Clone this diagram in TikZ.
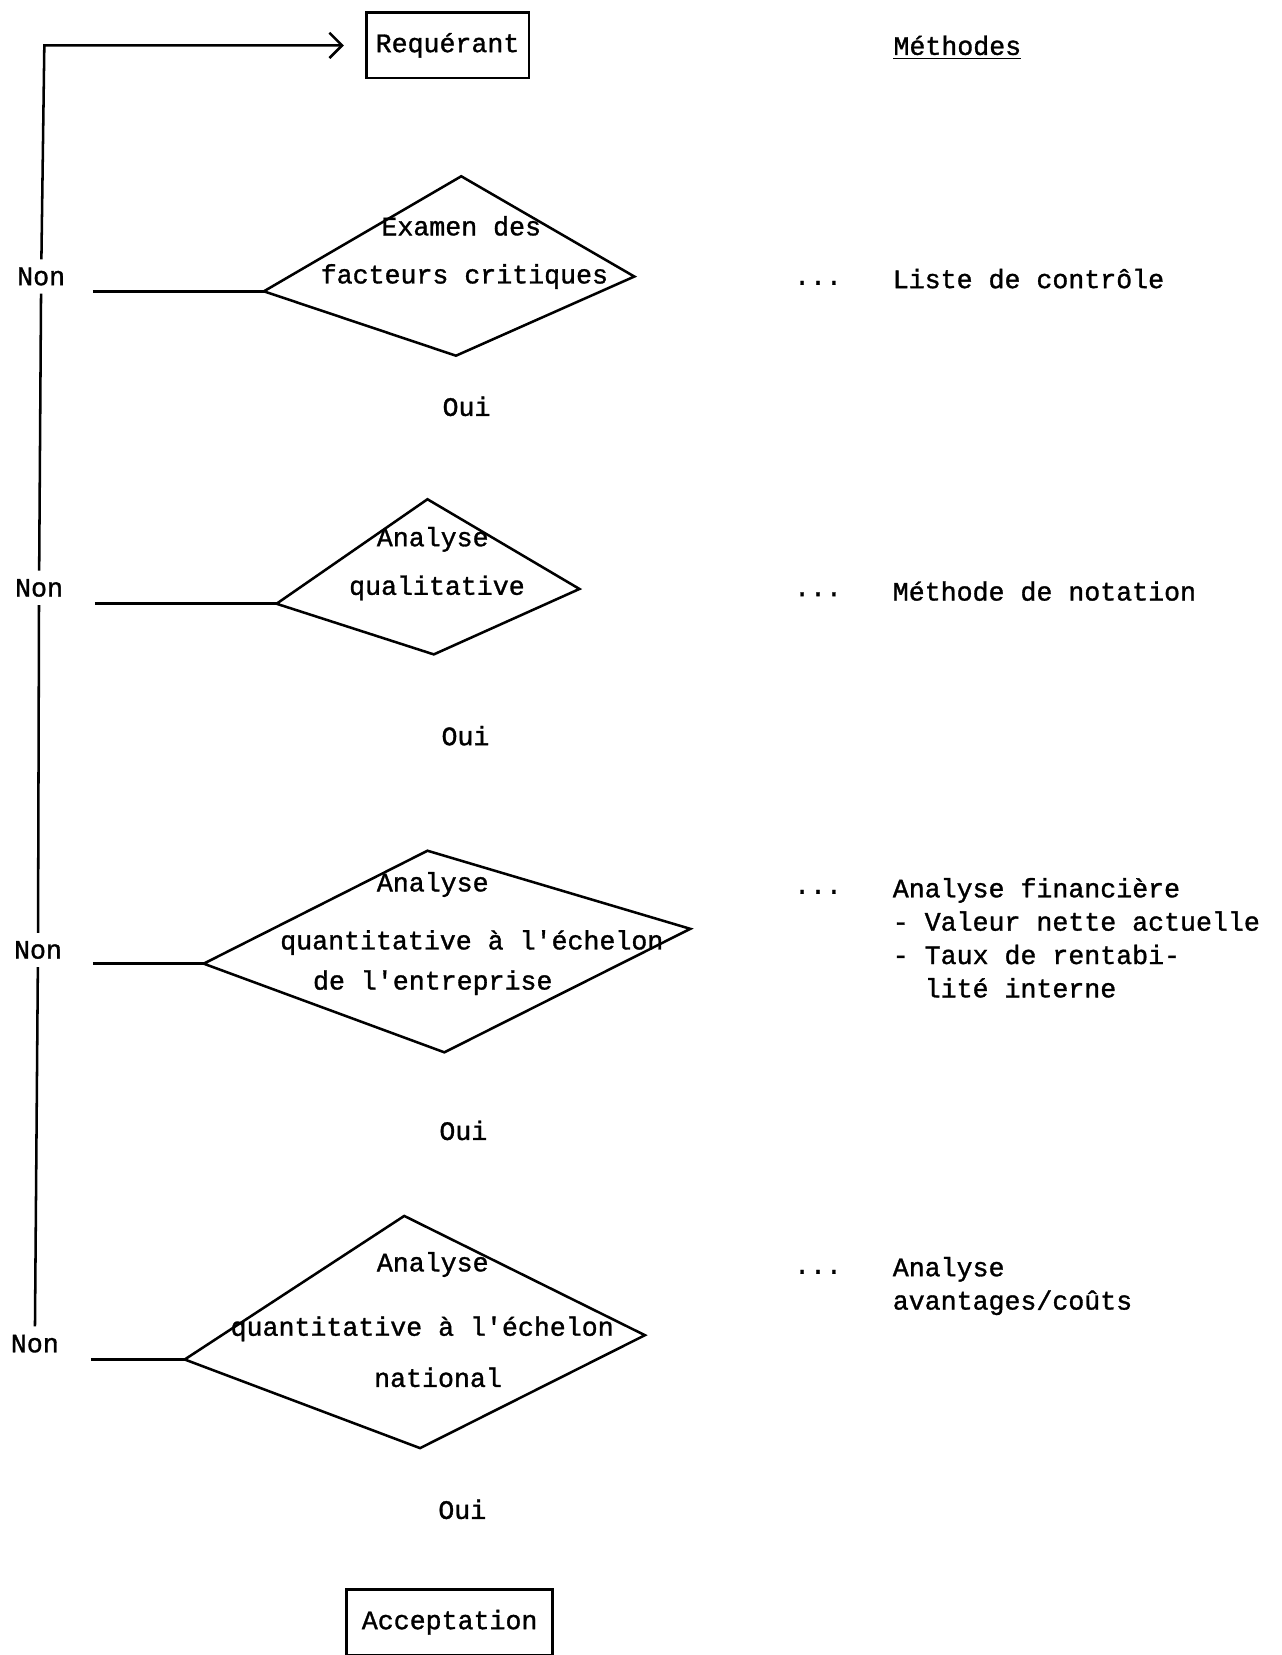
\documentclass[tikz,border=0pt]{standalone}
\usepackage{fontspec}
\setmainfont{Liberation Mono}[Ligatures=TeXOff]
\newfontfamily\typewriter{Liberation Mono}[Ligatures=TeXOff, FakeBold=1.2]
\usepackage{tikz}
\usetikzlibrary{arrows.meta}

\begin{document}
\begin{tikzpicture}[x=0.5pt, y=-0.5pt, line width=1.2pt,
    every node/.style={font=\typewriter\fontsize{12.6}{15.8}\selectfont},
    box/.style={draw, minimum height=31pt, inner sep=0pt},
    method/.style={anchor=west, align=left}]
    \useasboundingbox (0,0) rectangle (1214,1568);

    \node[box, minimum width=77pt] at (424,43) (req) {Requérant};
    \node[box, minimum width=97.5pt] at (426,1537) (acc) {Acceptation};
    \node at (907,45) (meth) {\underline{Méthodes}};

    \node at (39,262) (non1) {Non};
    \node at (37,557) (non2) {Non};
    \node at (36,900) (non3) {Non};
    \node at (33,1273) (non4) {Non};
    \coordinate (corner) at (42,43);

    \coordinate (d1l) at (250,276);
    \coordinate (d1t) at (437,167);
    \coordinate (d1r) at (601,262);
    \coordinate (d1b) at (432,337);
    \coordinate (d2l) at (262,572);
    \coordinate (d2t) at (405,473);
    \coordinate (d2r) at (549,558);
    \coordinate (d2b) at (411,620);
    \coordinate (d3l) at (193,913);
    \coordinate (d3t) at (405,806);
    \coordinate (d3r) at (654,880);
    \coordinate (d3b) at (421,997);
    \coordinate (d4l) at (175,1288);
    \coordinate (d4t) at (383,1152);
    \coordinate (d4r) at (611,1265);
    \coordinate (d4b) at (398,1372);

    \coordinate (s1) at (88,276);
    \coordinate (s2) at (90,572);
    \coordinate (s3) at (88,913);
    \coordinate (s4) at (86,1288);

    \node at (437,214) (d1a) {Examen des};
    \node at (440,262) (d1c) {facteurs critiques};
    \node at (410,511) (d2a) {Analyse};
    \node at (414,557) (d2c) {qualitative};
    \node at (410,838) (d3a) {Analyse};
    \node at (447,893) (d3c) {quantitative à l'échelon};
    \node at (410,931) (d3e) {de l'entreprise};
    \node at (410,1198) (d4a) {Analyse};
    \node at (400,1259) (d4c) {quantitative à l'échelon};
    \node at (415,1305) (d4e) {national};

    \node at (442,385) (oui1) {Oui};
    \node at (441,697) (oui2) {Oui};
    \node at (439,1071) (oui3) {Oui};
    \node at (438,1430) (oui4) {Oui};

    \node at (775,268) (dots1) {...};
    \node at (775,563) (dots2) {...};
    \node at (775,845) (dots3) {...};
    \node at (775,1205) (dots4) {...};
    \node[method] at (838,264) (m1) {Liste de contrôle};
    \node[method] at (838,560) (m2) {Méthode de notation};
    \node[method, anchor=north west] at (838,824) (m3) {Analyse financière\\- Valeur nette actuelle\\- Taux de rentabi-\\~~lité interne};
    \node[method, anchor=north west] at (838,1183) (m4) {Analyse\\avantages/coûts};

    \draw (d1l) -- (d1t) -- (d1r) -- (d1b) -- cycle;
    \draw (d2l) -- (d2t) -- (d2r) -- (d2b) -- cycle;
    \draw (d3l) -- (d3t) -- (d3r) -- (d3b) -- cycle;
    \draw (d4l) -- (d4t) -- (d4r) -- (d4b) -- cycle;

    \draw (s1) -- (d1l);
    \draw (s2) -- (d2l);
    \draw (s3) -- (d3l);
    \draw (s4) -- (d4l);

    \draw (non4) -- (non3);
    \draw (non3) -- (non2);
    \draw (non2) -- (non1);
    \draw[-{Straight Barb[length=6pt, width=12pt]}, shorten >=10pt] (non1) -- (corner) -- (req);
\end{tikzpicture}
\end{document}
